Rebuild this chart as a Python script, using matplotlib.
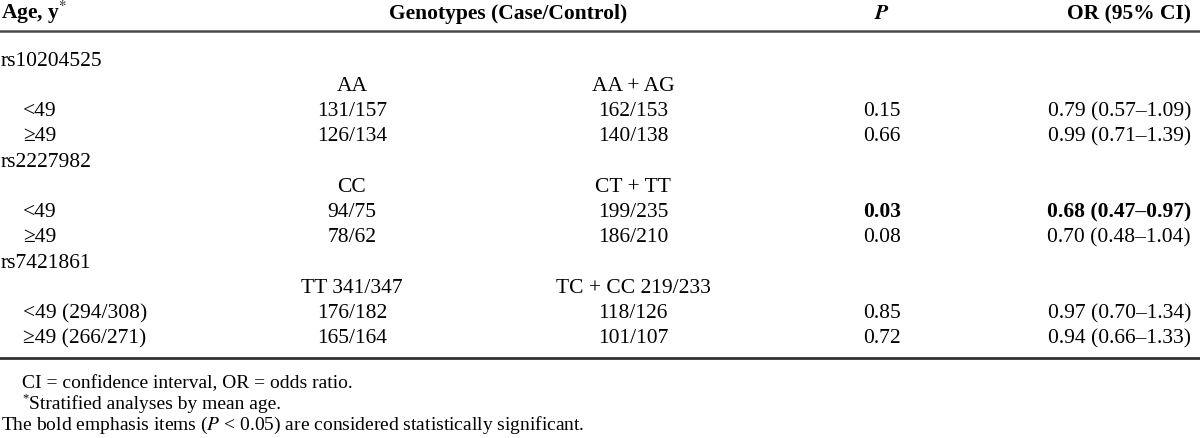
import matplotlib.pyplot as plt

# table contents
headers = ["Age, y$^{*}$", "Genotypes (Case/Control)", "$\\boldsymbol{P}$", "OR (95% CI)"]
snps = ["rs10204525", "rs2227982", "rs7421861"]
geno_left = ["AA", "CC", "TT 341/347"]
geno_right = ["AA + AG", "CT + TT", "TC + CC 219/233"]
age_groups = [["<49", "\u226549"], ["<49", "\u226549"], ["<49 (294/308)", "\u226549 (266/271)"]]
left_counts = [["131/157", "126/134"], ["94/75", "78/62"], ["176/182", "165/164"]]
right_counts = [["162/153", "140/138"], ["199/235", "186/210"], ["118/126", "101/107"]]
p_vals = [["0.15", "0.66"], ["0.03", "0.08"], ["0.85", "0.72"]]
or_ci = [["0.79 (0.57\u20131.09)", "0.99 (0.71\u20131.39)"],
         ["0.68 (0.47\u20130.97)", "0.70 (0.48\u20131.04)"],
         ["0.97 (0.70\u20131.34)", "0.94 (0.66\u20131.33)"]]
bold = [[False, False], [True, False], [False, False]]
footnotes = ["CI = confidence interval, OR = odds ratio.",
             "Stratified analyses by mean age.",
             "The bold emphasis items ($P$ < 0.05) are considered statistically significant."]

plt.rcParams['font.family'] = ['Liberation Serif', 'DejaVu Serif']
plt.rcParams['mathtext.fontset'] = 'stix'
fs = 15.5
off = 6  # baseline offset below the row centre

fig = plt.figure(figsize=(12, 4.38), dpi=100)
ax = fig.add_axes([0, 0, 1, 1])
ax.set_xlim(0, 1200)
ax.set_ylim(438, 0)
ax.axis('off')

x_age, x_gl, x_gr, x_p, x_or = 1, 352, 633, 882, 1191


def cell(x, y, s, ha='center', **kw):
    ax.text(x, y + off, s, fontsize=fs, va='baseline', ha=ha, **kw)


cell(x_age, 13, headers[0], ha='left', fontweight='bold')
cell(508, 13, headers[1], fontweight='bold')
cell(x_p, 13, headers[2], fontweight='bold', style='italic')
cell(x_or, 13, headers[3], ha='right', fontweight='bold')
ax.axhline(31, color='#4a4a4a', lw=1.8)

y = 60
for i, snp in enumerate(snps):
    cell(x_age, y, snp, ha='left')
    y += 25
    cell(x_gl, y, geno_left[i])
    cell(x_gr, y, geno_right[i])
    for j in range(2):
        y += 25
        w = 'bold' if bold[i][j] else 'normal'
        cell(x_age + 22, y, age_groups[i][j], ha='left')
        cell(x_gl, y, left_counts[i][j])
        cell(x_gr, y, right_counts[i][j])
        cell(x_p, y, p_vals[i][j], fontweight=w)
        cell(x_or, y, or_ci[i][j], ha='right', fontweight=w)
    y += 26

ax.axhline(358, color='#333333', lw=2.0)

fy = [382, 403, 424]
fx = [22, 29, 1]
for t, xx, yy in zip(footnotes, fx, fy):
    ax.text(xx, yy + off, t, fontsize=14, va='baseline', ha='left')
# footnote marker for the second note
ax.text(22, fy[1] - 2, "*", fontsize=9, va='baseline', ha='left')

fig.savefig('out.png', dpi=100)
